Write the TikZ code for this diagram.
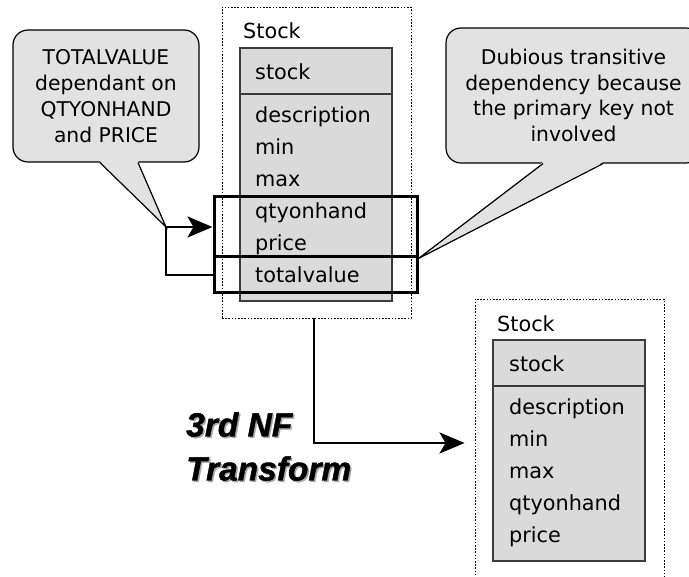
\documentclass[tikz,border=0pt]{standalone}
\usepackage{fontspec}
\setmainfont{DejaVu Sans}
\newfontfamily\xffont[BoldItalicFeatures={FakeBold=1.2}]{Liberation Sans}
\usetikzlibrary{arrows.meta,positioning,calc}
\definecolor{nfInk}{HTML}{000000}
\definecolor{nfEdge}{HTML}{3C3C3C}
\definecolor{nfTable}{HTML}{DADADA}
\definecolor{nfNote}{HTML}{E2E2E2}
\definecolor{nfShadow}{HTML}{A8A8A8}
\newcommand\xfshade[1]{\rlap{\hspace{1.5pt}\raisebox{-1.5pt}{\color{nfShadow}#1}}#1}
\tikzset{
  ent/.style={draw=nfInk, line width=0.9pt, dash pattern=on 1.6pt off 1.6pt, minimum width=189pt, inner sep=0pt},
  tbl/.style={draw=nfEdge, fill=nfTable, line width=1.3pt, minimum width=152pt, inner sep=0pt},
  hdr/.style={draw=nfEdge, line width=1.3pt},
  fld/.style={anchor=base west, inner sep=0pt, font=\fontsize{20.8}{24}\selectfont},
  grp/.style={draw=nfInk, line width=3pt, minimum width=203pt, inner sep=0pt},
  note/.style={draw=nfInk, fill=nfNote, line width=1.2pt, rounded corners=15pt, inner sep=0pt, align=center, font=\fontsize{20.3}{25.8}\selectfont},
  tail/.style={draw=nfInk, line width=1.2pt},
  arr/.style={-{Stealth[length=25pt,width=21pt,inset=6pt]}, line width=2.8pt, draw=nfInk},
  lnk/.style={line width=2.8pt, draw=nfInk},
  xf/.style={anchor=north west, inner sep=0pt, align=left, font=\xffont\bfseries\itshape\fontsize{33.5}{44}\selectfont},
}
\begin{document}
\begin{tikzpicture}[x=1pt, y=-1pt]
  \clip (0,0) rectangle (689,577);
  % entity before the transform
  \node[ent, minimum height=311pt] (ent1) at (316.5,162.5) {};
  \node[fld] (lab1) at (243,39) {Stock};
  \node[tbl, minimum height=253pt] (tab1) at (316,174.5) {};
  \draw[hdr] (tab1.west |- 0,94) -- (tab1.east |- 0,94);
  \node[fld] (key1) at (255,80) {stock};
  \foreach \f [count=\i] in {description,min,max,qtyonhand,price,totalvalue}
    \node[fld] (f1-\i) at (255,123+32*\i-32) {\f};
  % grouped fields
  \node[grp, minimum height=60pt] (grp1) at (315.5,227) {};
  \node[grp, minimum height=36pt] (grp2) at (315.5,275) {};
  % entity after the transform
  \node[ent, minimum height=288pt] (ent2) at (569.5,443) {};
  \node[fld] (lab2) at (497,332) {Stock};
  \node[tbl, minimum height=221pt] (tab2) at (569,450.5) {};
  \draw[hdr] (tab2.west |- 0,386) -- (tab2.east |- 0,386);
  \node[fld] (key2) at (509,372) {stock};
  \foreach \f [count=\i] in {description,min,max,qtyonhand,price}
    \node[fld] (f2-\i) at (509,415+32*\i-32) {\f};
  % notes
  \node[note, minimum width=186pt, minimum height=132pt] (note1) at (106,96) {TOTALVALUE\\dependant on\\QTYONHAND\\and PRICE};
  \node[note, minimum width=255pt, minimum height=135pt] (note2) at (573.5,95.5) {Dubious transitive\\dependency because\\the primary key not\\involved};
  \coordinate (jn) at (166,227);
  \fill[nfNote] ($(note1.south)+(-6,-1.5)$) -- (jn) -- ($(note1.south)+(32,-1.5)$) -- cycle;
  \draw[tail] ($(note1.south)+(-6,0)$) -- (jn) -- ($(note1.south)+(32,0)$);
  \fill[nfNote] ($(note2.south)+(-30.5,-1.5)$) -- (grp1.south east) -- ($(note2.south)+(29.5,-1.5)$) -- cycle;
  \draw[tail] ($(note2.south)+(-30.5,0)$) -- (grp1.south east) -- ($(note2.south)+(29.5,0)$);
  % connectors
  \draw[arr] (jn) -- (grp1.west);
  \draw[lnk] (jn) |- (grp2.west);
  \draw[arr, shorten >=10pt] (ent1.south -| 314,0) |- (ent2.west);
  % transform label
  \node[xf] (xft) at (186,412) {\xfshade{3rd NF}\\\xfshade{Transform}};
\end{tikzpicture}
\end{document}
